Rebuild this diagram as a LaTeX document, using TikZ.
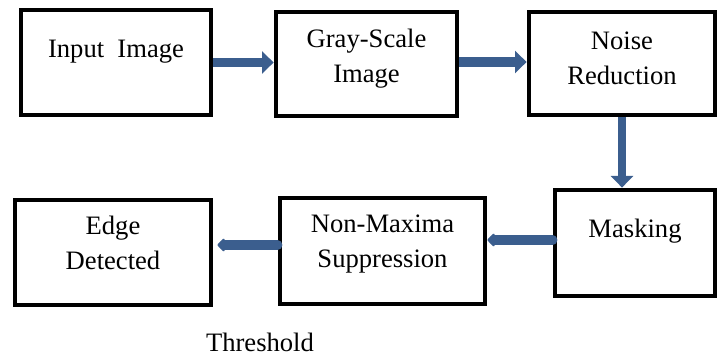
\documentclass[tikz,border=0pt]{standalone}
\usepackage{fontspec}
\setmainfont{Liberation Serif}
\usepackage{tikz}
\usetikzlibrary{arrows.meta,calc}
\definecolor{flowblue}{RGB}{59,94,142}

\begin{document}
\begin{tikzpicture}[x=0.5pt,y=-0.5pt,
  box/.style={draw=black, line width=2.4pt, rectangle, inner sep=0pt},
  lbl/.style={anchor=base, align=center, inner sep=0pt,
    font=\fontsize{13.3pt}{17.5pt}\selectfont},
  flow/.style={draw=flowblue, line width=4.6pt,
    -{Triangle[width=11pt,length=5.8pt]}},
  backflow/.style={draw=flowblue, line width=4.8pt, line cap=round,
    -{Triangle[width=7.5pt,length=3.8pt,round]}}]
\useasboundingbox (0,0) rectangle (723,356);
% blocks
\node[box, minimum width=95pt, minimum height=52.5pt] (inp) at (116,62.5) {};
\node[box, minimum width=90.5pt, minimum height=52pt] (gray) at (366.5,64) {};
\node[box, minimum width=93pt, minimum height=51.5pt] (noise) at (622,63.5) {};
\node[box, minimum width=80pt, minimum height=53pt] (mask) at (635,243) {};
\node[box, minimum width=102.5pt, minimum height=53pt] (nonmax) at (382.5,251) {};
\node[box, minimum width=98pt, minimum height=52.5pt] (edge) at (113,252.5) {};
% texts (base = last line)
\node[lbl] (inp-t) at (116,58) {Input\ \ Image};
\node[lbl] (gray-t) at (366.5,83) {Gray-Scale\\Image};
\node[lbl] (noise-t) at (622,85) {Noise\\Reduction};
\node[lbl] (mask-t) at (635,238) {Masking};
\node[lbl] (nonmax-t) at (382.5,268) {Non-Maxima\\Suppression};
\node[lbl] (edge-t) at (113,270) {Edge\\Detected};
\node[lbl] (thr) at (260,352) {Threshold};
% arrows
\draw[flow] (inp.east) -- (inp.east -| gray.west);
\draw[flow] ([yshift=1pt]gray.east) -- ([yshift=1pt]gray.east -| noise.west);
\draw[flow, line width=4.2pt] (noise.south) -- (noise.south |- mask.north);
\draw[backflow] ([yshift=1.5pt]mask.west) -- ([yshift=1.5pt]mask.west -| nonmax.east);
\draw[backflow] ([yshift=3pt]nonmax.west) -- ([yshift=3pt,xshift=2pt]nonmax.west -| edge.east);
\end{tikzpicture}
\end{document}
